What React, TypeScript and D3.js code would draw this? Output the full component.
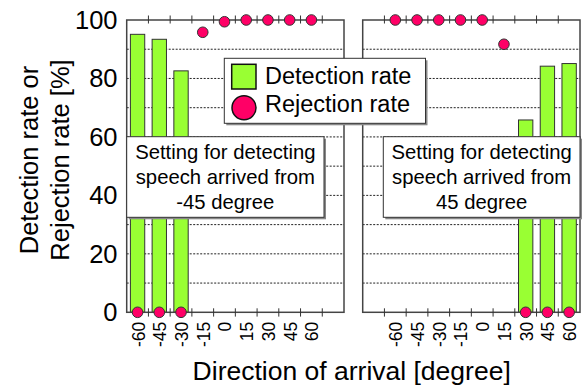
import React from 'react';
import * as d3 from 'd3';

// direction of arrival categories (degree)
const categories = ['-60', '-45', '-30', '-15', '0', '15', '30', '45', '60'];

// setting for -45 degree
const leftDetection = [95.1, 93.4, 82.6, 0, 0, 0, 0, 0, 0];
const leftRejection = [0, 0, 0, 95.8, 99.4, 100, 100, 100, 100];

// setting for 45 degree
const rightDetection = [0, 0, 0, 0, 0, 0, 65.8, 84.2, 85.1];
const rightRejection = [100, 100, 100, 100, 100, 91.7, 0, 0, 0];

const yTicks = [0, 20, 40, 60, 80, 100];
const gridValues = [10, 20, 30, 40, 50, 60, 70, 80, 90];

const FONT = 'Liberation Sans, Arial, sans-serif';
const GREEN = '#99ff33';
const PINK = '#ff0066';
const EDGE = '#333';

const top = 20;
const bottom = 312.3;

const y = d3.scaleLinear().domain([0, 100]).range([bottom, top]);

const panels = [
  {
    key: 'left',
    x0: 126.7,
    x1: 344,
    slots: [...categories, 'pad'],
    detection: leftDetection,
    rejection: leftRejection,
    box: { x: 126.7, w: 197.3 },
    label: ['Setting for detecting', 'speech arrived from', '-45 degree'],
  },
  {
    key: 'right',
    x0: 362.7,
    x1: 580,
    slots: ['pad', ...categories],
    detection: rightDetection,
    rejection: rightRejection,
    box: { x: 383.3, w: 196.7 },
    label: ['Setting for detecting', 'speech arrived from', '45 degree'],
  },
];

const Panel = ({ p }: { p: (typeof panels)[number] }) => {
  const x = d3.scaleBand().domain(p.slots).range([p.x0, p.x1]).paddingInner(0.34).paddingOuter(0.17);
  const step = (p.x1 - p.x0) / p.slots.length;
  const bounds = d3.range(1, p.slots.length).map((i) => p.x0 + step * i);
  const center = (c: string) => (x(c) as number) + x.bandwidth() / 2;
  return (
    <g>
      {gridValues.map((v) => (
        <line key={v} x1={p.x0} x2={p.x1} y1={y(v)} y2={y(v)} stroke="#222" strokeWidth={1} strokeDasharray="2,1.5" />
      ))}
      {categories.map((c, i) =>
        p.detection[i] > 0 ? (
          <rect
            key={c}
            x={x(c)}
            y={y(p.detection[i])}
            width={x.bandwidth()}
            height={y(0) - y(p.detection[i])}
            fill={GREEN}
            stroke={EDGE}
            strokeWidth={1}
          />
        ) : null
      )}
      <rect x={p.x0} y={top} width={p.x1 - p.x0} height={bottom - top} fill="none" stroke="#444" strokeWidth={1.5} />
      {bounds.map((b) => (
        <g key={b}>
          <line x1={b} x2={b} y1={top - 4.5} y2={top + 3.5} stroke={EDGE} strokeWidth={1} />
          <line x1={b} x2={b} y1={bottom - 4} y2={bottom + 4.3} stroke={EDGE} strokeWidth={1} />
        </g>
      ))}
      {categories.map((c) => (
        <text
          key={c}
          transform={`translate(${center(c) + 1},321.7) rotate(-90)`}
          textAnchor="end"
          dominantBaseline="central"
          fontSize={17.5}
          fontFamily={FONT}
        >
          {c}
        </text>
      ))}
      <rect x={p.box.x + 2} y={136.7 + 2} width={p.box.w} height={80.6} fill="#888" />
      <rect x={p.box.x} y={136.7} width={p.box.w} height={80.6} fill="#fff" stroke={EDGE} strokeWidth={1} />
      {p.label.map((t, i) => (
        <text
          key={i}
          x={p.box.x + p.box.w / 2}
          y={159.3 + i * 25}
          textAnchor="middle"
          fontSize={20.3}
          fontFamily={FONT}
        >
          {t}
        </text>
      ))}
      {categories.map((c, i) => (
        <circle key={c} cx={center(c)} cy={y(p.rejection[i])} r={5.3} fill={PINK} stroke={EDGE} strokeWidth={1} />
      ))}
    </g>
  );
};

const App = () => {
  return (
    <svg width={587} height={385} style={{ position: 'absolute', left: 0, top: 0, background: '#fff' }}>
      {panels.map((p) => (
        <Panel key={p.key} p={p} />
      ))}
      {yTicks.map((t) => (
        <text key={t} x={117.5} y={y(t)} textAnchor="end" dominantBaseline="central" fontSize={25.5} fontFamily={FONT}>
          {t}
        </text>
      ))}
      <text transform="translate(38.3,160) rotate(-90)" textAnchor="middle" fontSize={25.5} fontFamily={FONT}>
        Detection rate or
      </text>
      <text transform="translate(68.7,160) rotate(-90)" textAnchor="middle" fontSize={25.5} fontFamily={FONT}>
        Rejection rate [%]
      </text>
      <text x={351.7} y={379.5} textAnchor="middle" fontSize={26.5} fontFamily={FONT}>
        Direction of arrival [degree]
      </text>
      {/* legend */}
      <g>
        <rect x={226.3} y={60.3} width={201.2} height={65} fill="#888" />
        <rect x={224.3} y={58.3} width={201.2} height={65} fill="#fff" stroke={EDGE} strokeWidth={1} />
        <rect x={231.7} y={64.3} width={24.3} height={24.7} fill={GREEN} stroke="#111" strokeWidth={1.5} />
        <circle cx={244} cy={107.7} r={12} fill={PINK} stroke="#111" strokeWidth={1.5} />
        <text x={265} y={84.3} fontSize={23.5} fontFamily={FONT}>
          Detection rate
        </text>
        <text x={265} y={111.7} fontSize={23.5} fontFamily={FONT}>
          Rejection rate
        </text>
      </g>
    </svg>
  );
};

export default App;
